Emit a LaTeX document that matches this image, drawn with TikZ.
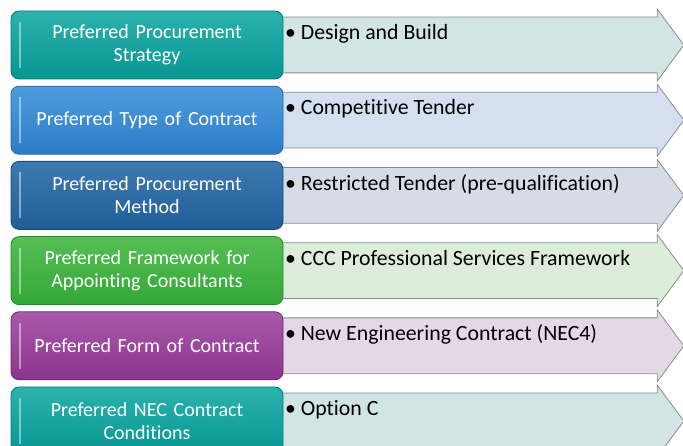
\documentclass[tikz,border=0pt]{standalone}
\usepackage{fontspec}
\setmainfont{Carlito}[Ligatures=NoCommon]
\usepackage{xcolor}
\usepackage{tikz}
\usetikzlibrary{shapes.arrows, positioning, backgrounds}
\definecolor{tealtop}{RGB}{43,178,173}
\definecolor{tealbot}{RGB}{8,150,146}
\definecolor{tealedge}{RGB}{10,120,117}
\definecolor{bluetop}{RGB}{78,156,222}
\definecolor{bluebot}{RGB}{45,124,200}
\definecolor{blueedge}{RGB}{35,100,165}
\definecolor{navytop}{RGB}{62,122,178}
\definecolor{navybot}{RGB}{33,93,150}
\definecolor{navyedge}{RGB}{25,75,125}
\definecolor{greentop}{RGB}{85,190,85}
\definecolor{greenbot}{RGB}{52,168,56}
\definecolor{greenedge}{RGB}{40,135,45}
\definecolor{purptop}{RGB}{168,90,170}
\definecolor{purpbot}{RGB}{140,52,142}
\definecolor{purpedge}{RGB}{110,40,112}
\definecolor{palteal}{RGB}{210,229,228}
\definecolor{palblue}{RGB}{212,223,240}
\definecolor{palnavy}{RGB}{214,220,230}
\definecolor{palgreen}{RGB}{220,238,217}
\definecolor{palpurp}{RGB}{229,216,230}
\definecolor{bandgray}{RGB}{140,140,140}
\tikzset{
  stage/.style={
    rectangle, rounded corners=8pt, minimum width=272pt, minimum height=68pt,
    text width=250pt, align=center, inner sep=0pt, line width=0.8pt,
    font=\fontsize{20}{23}\selectfont, text=white,
    path picture={
      \draw[white, opacity=0.45, line width=2.5pt]
        ([xshift=9pt,yshift=-11pt]path picture bounding box.north west) --
        ([xshift=9pt,yshift=11pt]path picture bounding box.south west);
    }
  },
  band/.style={
    single arrow, single arrow head extend=8pt, single arrow tip angle=107,
    minimum height=402pt, inner xsep=0pt, inner ysep=27.5pt,
    draw=bandgray, line width=0.8pt
  },
  item/.style={
    font=\fontsize{21.8}{24}\selectfont, text=black, inner sep=0pt,
    text height=14.5pt, text depth=4pt, anchor=north west
  }
}
\begin{document}
\begin{tikzpicture}[x=1pt,y=-1pt]
  \clip (0,0) rectangle (683,446);

  % Left column
  \node[stage, top color=tealtop, bottom color=tealbot, draw=tealedge]
    (strat) at (147,45) {Preferred Procurement\\Strategy};
  \node[stage, top color=bluetop, bottom color=bluebot, draw=blueedge,
        below=6.4pt of strat] (type) {Preferred Type of Contract};
  \node[stage, top color=navytop, bottom color=navybot, draw=navyedge,
        below=6.4pt of type] (method) {Preferred Procurement\\Method};
  \node[stage, top color=greentop, bottom color=greenbot, draw=greenedge,
        below=6.4pt of method] (frame) {Preferred Framework for\\Appointing Consultants};
  \node[stage, top color=purptop, bottom color=purpbot, draw=purpedge,
        below=6.4pt of frame] (form) {Preferred Form of Contract};
  \node[stage, top color=tealtop, bottom color=tealbot, draw=tealedge,
        below=6.4pt of form] (cond) {Preferred NEC Contract\\Conditions};

  % Arrows behind
  \begin{scope}[on background layer]
    \node[band, fill=palteal, right=-2pt of strat] (strat_arr) {};
    \node[band, fill=palblue, right=-2pt of type] (type_arr) {};
    \node[band, fill=palnavy, right=-2pt of method] (method_arr) {};
    \node[band, fill=palgreen, right=-2pt of frame] (frame_arr) {};
    \node[band, fill=palpurp, right=-2pt of form] (form_arr) {};
    \node[band, fill=palteal, right=-2pt of cond] (cond_arr) {};
  \end{scope}

  % Choices
  \node[item, below right=14.5pt and 1.5pt of strat.north east] (strat_txt)
    {\textbullet\ Design and Build};
  \node[item, below right=14.5pt and 1.5pt of type.north east] (type_txt)
    {\textbullet\ Competitive Tender};
  \node[item, below right=14.5pt and 1.5pt of method.north east] (method_txt)
    {\textbullet\ Restricted Tender (pre-qualification)};
  \node[item, below right=14.5pt and 1.5pt of frame.north east] (frame_txt)
    {\textbullet\ CCC Professional Services Framework};
  \node[item, below right=14.5pt and 1.5pt of form.north east] (form_txt)
    {\textbullet\ New Engineering Contract (NEC4)};
  \node[item, below right=14.5pt and 1.5pt of cond.north east] (cond_txt)
    {\textbullet\ Option C};
\end{tikzpicture}
\end{document}
